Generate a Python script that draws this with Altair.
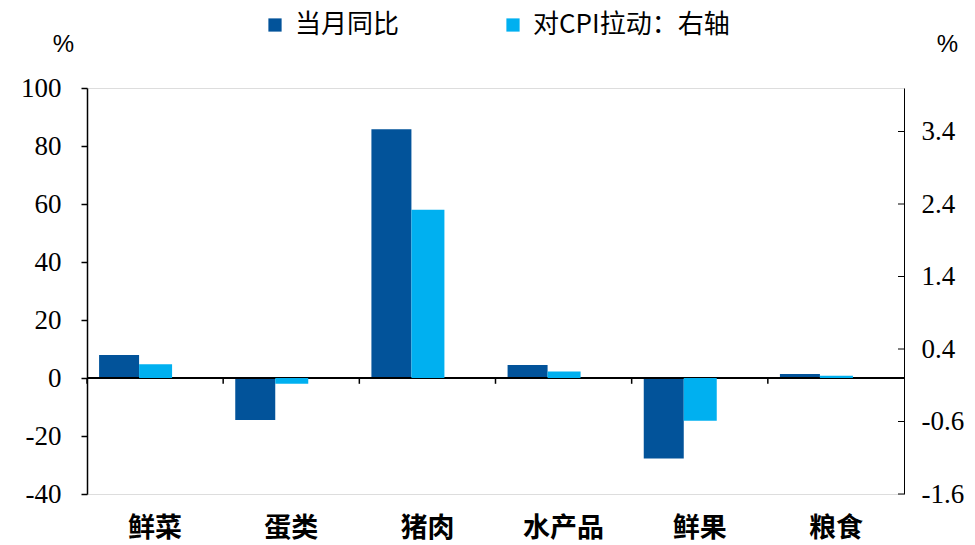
import altair as alt
import pandas as pd

categories = ["鲜菜", "蛋类", "猪肉", "水产品", "鲜果", "粮食"]
yoy = [7.9, -14.5, 85.8, 4.5, -27.8, 1.4]
cpi_pull = [0.19, -0.08, 2.32, 0.09, -0.59, 0.03]
series_names = ["当月同比", "对CPI拉动：右轴"]
left_ticks = [-40, -20, 0, 20, 40, 60, 80, 100]
right_ticks = [-1.6, -0.6, 0.4, 1.4, 2.4, 3.4]
colors = ["#02539A", "#00B0F0"]

W, H = 817, 406

df = pd.DataFrame({"cat": categories, "yoy": yoy, "pull": cpi_pull,
                   "s1": [series_names[0]] * len(categories),
                   "s2": [series_names[1]] * len(categories)})
rt = pd.DataFrame({"pull": right_ticks})

NUM_FONT = "Liberation Serif"
CJK_FONT = "Noto Sans CJK SC"
MINUS_FIX = "replace(datum.label, '\u2212', '-')"

color_scale = alt.Scale(domain=series_names, range=colors)
color_legend = alt.Legend(title=None, orient="none", legendX=175, legendY=-76,
                          direction="horizontal", symbolType="square",
                          symbolSize=175, symbolStrokeWidth=0,
                          labelFont=CJK_FONT, labelFontSize=26, labelLimit=400,
                          labelColor="black", columnPadding=100,
                          labelOffset=7, padding=0)

xenc = alt.X("cat:N", sort=categories,
             scale=alt.Scale(paddingInner=0, paddingOuter=0),
             axis=alt.Axis(title=None, domain=False, ticks=False, labelAngle=0,
                           labelFont=CJK_FONT, labelFontSize=27, labelFontWeight="bold",
                           labelColor="black", labelPadding=21))

left_scale = alt.Scale(domain=[-40, 100], nice=False, zero=False)

dark = alt.Chart(df).mark_bar(width=40, xOffset=-36).encode(
    x=xenc,
    y=alt.Y("yoy:Q", scale=left_scale,
            axis=alt.Axis(values=left_ticks, format="d", labelExpr=MINUS_FIX,
                          grid=False, orient="left",
                          domainColor="black", domainWidth=1.5, tickColor="black",
                          tickWidth=1.5, tickSize=6, labelFont=NUM_FONT, labelFontSize=27,
                          labelColor="black", labelPadding=20,
                          title="%", titleAngle=0, titleX=-24, titleY=-44,
                          titleAlign="center", titleBaseline="middle",
                          titleFont="Liberation Sans", titleFontSize=24,
                          titleFontWeight="normal", titleColor="black")),
    color=alt.Color("s1:N", scale=color_scale, legend=color_legend),
)

zero_rule = alt.Chart(df).mark_rule(color="black", strokeWidth=1.5).encode(
    y=alt.datum(0),
)

bound_ticks = alt.Chart(df).mark_rule(color="black", strokeWidth=1.5).encode(
    x=alt.X("cat:N", sort=categories, bandPosition=0),
    y=alt.datum(0),
    y2=alt.datum(-2),
)

layer_left = alt.layer(dark, zero_rule, bound_ticks)

right_scale = alt.Scale(domain=[-1.6, 4.0], nice=False, zero=False)
right_axis = alt.Axis(values=right_ticks, format=".1f", labelExpr=MINUS_FIX,
                      grid=False, orient="right",
                      domainColor="black", domainWidth=1, ticks=False, tickSize=0,
                      labelFont=NUM_FONT, labelFontSize=27, labelColor="black",
                      labelPadding=17,
                      title="%", titleAngle=0, titleX=43, titleY=-44,
                      titleAlign="center", titleBaseline="middle",
                      titleFont="Liberation Sans", titleFontSize=24,
                      titleFontWeight="normal", titleColor="black")

light = alt.Chart(df).mark_bar(width=33, xOffset=0.5).encode(
    x=alt.X("cat:N", sort=categories),
    y=alt.Y("pull:Q", scale=right_scale, axis=right_axis),
    color=alt.Color("s2:N", scale=color_scale, legend=color_legend),
)

rticks = alt.Chart(rt).mark_rule(color="black", strokeWidth=1).encode(
    y=alt.Y("pull:Q", scale=right_scale, axis=right_axis),
    x=alt.value(W - 6),
    x2=alt.value(W),
)

layer_right = alt.layer(light, rticks)

chart = alt.layer(layer_left, layer_right).resolve_scale(y="independent").properties(
    width=W, height=H,
    autosize=alt.AutoSizeParams(type="none"),
    padding={"left": 87, "top": 88, "right": 71, "bottom": 51},
).configure_view(stroke=None).configure(background="white")

chart.save("out.html", embed_options={"renderer": "svg", "actions": False})
